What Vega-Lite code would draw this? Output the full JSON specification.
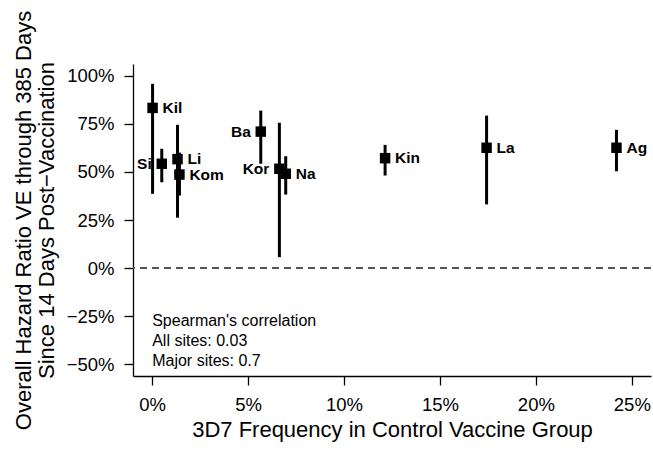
{
  "$schema": "https://vega.github.io/schema/vega-lite/v6.json",
  "width": 518,
  "height": 312,
  "autosize": {"type": "none"},
  "padding": {"left": 133, "top": 64, "right": 2, "bottom": 74},
  "config": {"view": {"stroke": null}, "font": "Liberation Sans"},
  "data": {
    "values": [
      {"site": "Kil", "freq": 0.02, "ve": 83.2, "lower": 38.6, "upper": 95.7},
      {"site": "Si", "freq": 0.5, "ve": 54.2, "lower": 44.6, "upper": 62.0},
      {"site": "Li", "freq": 1.32, "ve": 56.6, "lower": 26.2, "upper": 74.4},
      {"site": "Kom", "freq": 1.42, "ve": 48.6, "lower": 37.7, "upper": 60.0},
      {"site": "Ba", "freq": 5.66, "ve": 70.9, "lower": 54.2, "upper": 81.8},
      {"site": "Kor", "freq": 6.63, "ve": 51.6, "lower": 5.7, "upper": 75.5},
      {"site": "Na", "freq": 6.96, "ve": 49.0, "lower": 38.2, "upper": 58.1},
      {"site": "Kin", "freq": 12.14, "ve": 57.1, "lower": 48.1, "upper": 64.0},
      {"site": "La", "freq": 17.43, "ve": 62.5, "lower": 33.1, "upper": 79.2},
      {"site": "Ag", "freq": 24.2, "ve": 62.5, "lower": 50.3, "upper": 71.8}
    ]
  },
  "layer": [
    {
      "mark": {"type": "rule", "strokeDash": [7, 5], "color": "#555555", "strokeWidth": 1.5},
      "encoding": {"y": {"datum": 0}}
    },
    {
      "mark": {"type": "rule", "strokeWidth": 3, "color": "black"},
      "encoding": {
        "x": {
          "field": "freq",
          "type": "quantitative",
          "scale": {"domain": [-1, 26], "nice": false, "zero": false},
          "axis": {
            "values": [0, 5, 10, 15, 20, 25],
            "labelExpr": "datum.value + '%'",
            "title": "3D7 Frequency in Control Vaccine Group",
            "grid": false,
            "labelFlush": false,
            "labelOverlap": false,
            "tickSize": 9,
            "tickWidth": 1.3,
            "tickColor": "black",
            "domainColor": "black",
            "domainWidth": 1.3,
            "labelFontSize": 18.5,
            "labelColor": "black",
            "labelPadding": 10,
            "titleFontSize": 22,
            "titleFontWeight": "normal",
            "titleColor": "black",
            "titleBaseline": "top",
            "titleY": 43
          }
        },
        "y": {
          "field": "lower",
          "type": "quantitative",
          "scale": {"domain": [-56, 106], "nice": false, "zero": false},
          "axis": {
            "values": [-50, -25, 0, 25, 50, 75, 100],
            "labelExpr": "(datum.value < 0 ? '\u2212' + abs(datum.value) : datum.value) + '%'",
            "title": ["Overall Hazard Ratio VE through 385 Days", "Since 14 Days Post\u2212Vaccination"],
            "grid": false,
            "labelOverlap": false,
            "labelFlush": false,
            "tickSize": 9,
            "tickWidth": 1.3,
            "tickColor": "black",
            "domainColor": "black",
            "domainWidth": 1.3,
            "labelFontSize": 18.5,
            "labelColor": "black",
            "labelPadding": 10,
            "titleFontSize": 22,
            "titleFontWeight": "normal",
            "titleColor": "black",
            "titleLineHeight": 23,
            "titleAngle": -90,
            "titleBaseline": "alphabetic",
            "titleAlign": "center",
            "titleX": -103,
            "titleY": 156
          }
        },
        "y2": {"field": "upper"}
      }
    },
    {
      "mark": {"type": "square", "size": 110, "filled": true, "color": "black", "opacity": 1},
      "encoding": {
        "x": {"field": "freq", "type": "quantitative"},
        "y": {"field": "ve", "type": "quantitative"}
      }
    },
    {
      "transform": [{"filter": {"not": {"field": "site", "oneOf": ["Si", "Ba", "Kor"]}}}],
      "mark": {"type": "text", "align": "left", "baseline": "middle", "dx": 10, "fontWeight": "bold", "fontSize": 15.5, "color": "black"},
      "encoding": {
        "x": {"field": "freq", "type": "quantitative"},
        "y": {"field": "ve", "type": "quantitative"},
        "text": {"field": "site"}
      }
    },
    {
      "transform": [{"filter": {"field": "site", "oneOf": ["Si", "Ba", "Kor"]}}],
      "mark": {"type": "text", "align": "right", "baseline": "middle", "dx": -10, "fontWeight": "bold", "fontSize": 15.5, "color": "black"},
      "encoding": {
        "x": {"field": "freq", "type": "quantitative"},
        "y": {"field": "ve", "type": "quantitative"},
        "text": {"field": "site"}
      }
    },
    {
      "data": {"values": [{"note": "Spearman's correlation"}]},
      "mark": {
        "type": "text",
        "align": "left",
        "baseline": "top",
        "fontSize": 16,
        "lineHeight": 19.8,
        "color": "black",
        "text": ["Spearman's correlation", "All sites: 0.03", "Major sites: 0.7"]
      },
      "encoding": {
        "x": {"datum": 0},
        "y": {"datum": -23.4}
      }
    }
  ]
}
